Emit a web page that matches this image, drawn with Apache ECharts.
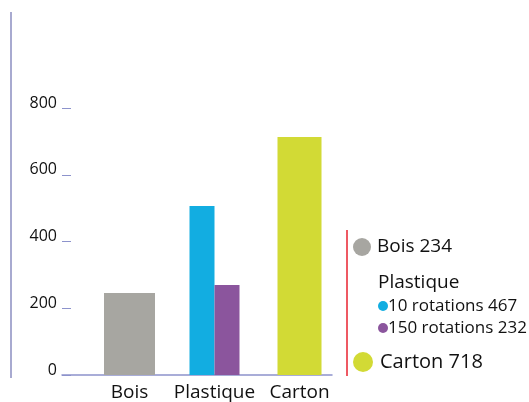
<!DOCTYPE html>
<html>
<head>
<meta charset="utf-8">
<title>Bois, Plastique, Carton</title>
<script src="https://cdn.jsdelivr.net/npm/echarts@6/dist/echarts.min.js"></script>
<style>
    html, body { margin: 0; padding: 0; background: #fff; }
    #chart { width: 529px; height: 402px; }
</style>
</head>
<body>
<div id="chart"></div>
<script>
// data
const categories = ['Bois', 'Plastique', 'Carton'];
const yTicks = [0, 200, 400, 600, 800];
const boisValues = [246, '-', '-'];
const rotations10Values = ['-', 506, '-'];
const rotations150Values = ['-', 270, '-'];
const cartonValues = ['-', '-', 713];

// the key prints its own figures
const keyNames = ['Bois', '10 rotations', '150 rotations', 'Carton'];
const keyFigures = [234, 467, 232, 718];
const keyGroupTitle = 'Plastique';

const FONT = 'Open Sans';
const AXIS_BLUE = '#8d93cc';
const colors = {
    bois: '#a7a6a1',
    r10: '#12ade1',
    r150: '#8b559d',
    carton: '#d2da35'
};

function keyText(i) {
    return keyNames[i] + ' ' + keyFigures[i];
}

function dot(cx, cy, r, fill) {
    return { type: 'circle', shape: { cx: cx, cy: cy, r: r }, style: { fill: fill } };
}

function label(x, y, text, size) {
    return {
        type: 'text', x: x, y: y,
        style: { text: text, fontSize: size, fontFamily: FONT, fill: '#111', verticalAlign: 'middle' }
    };
}

const chart = echarts.init(document.getElementById('chart'));

chart.setOption({
    animation: false,
    backgroundColor: '#fff',
    grid: [
        { left: 87, width: 255, top: 108, bottom: 27 },
        { left: 62, width: 270, top: 108, bottom: 27 }
    ],
    xAxis: [
        {
            type: 'category', gridIndex: 0, data: categories,
            axisLine: { show: false }, axisTick: { show: false },
            axisLabel: { interval: 0, fontSize: 19, fontFamily: FONT, color: '#111', margin: 8 }
        },
        { type: 'category', gridIndex: 0, data: categories, show: false },
        { type: 'category', gridIndex: 0, data: categories, show: false },
        {
            type: 'value', gridIndex: 1, min: 0, max: 1,
            axisLine: { show: true, lineStyle: { color: AXIS_BLUE, width: 1.5 } },
            axisTick: { show: false }, axisLabel: { show: false }, splitLine: { show: false }
        }
    ],
    yAxis: [
        { type: 'value', gridIndex: 0, min: yTicks[0], max: yTicks[yTicks.length - 1], show: false },
        {
            type: 'value', gridIndex: 1,
            min: yTicks[0], max: yTicks[yTicks.length - 1], interval: yTicks[1] - yTicks[0],
            axisLine: { show: false },
            axisTick: { show: true, inside: true, length: 9, lineStyle: { color: AXIS_BLUE } },
            axisLabel: {
                fontSize: 16, fontFamily: FONT, color: '#111', margin: 5,
                verticalAlign: 'bottom', lineHeight: 10
            },
            splitLine: { show: false }
        }
    ],
    series: [
        { name: 'Bois', type: 'bar', xAxisIndex: 0, yAxisIndex: 0, barWidth: 51,
          data: boisValues, itemStyle: { color: colors.bois } },
        { name: 'Carton', type: 'bar', xAxisIndex: 1, yAxisIndex: 0, barWidth: 44,
          data: cartonValues, itemStyle: { color: colors.carton } },
        { name: '10 rotations', type: 'bar', xAxisIndex: 2, yAxisIndex: 0, barWidth: 25, barGap: '0%',
          data: rotations10Values, itemStyle: { color: colors.r10 } },
        { name: '150 rotations', type: 'bar', xAxisIndex: 2, yAxisIndex: 0, barWidth: 25, barGap: '0%',
          data: rotations150Values, itemStyle: { color: colors.r150 } }
    ],
    graphic: [
        { type: 'line', shape: { x1: 11, y1: 12, x2: 11, y2: 378 }, style: { stroke: '#a8aad0', lineWidth: 2 } },
        { type: 'line', shape: { x1: 347, y1: 230, x2: 347, y2: 376 }, style: { stroke: '#e8222f', lineWidth: 1.5 } },
        dot(362, 247, 9, colors.bois),
        label(377, 247, keyText(0), 19),
        label(378, 283, keyGroupTitle, 19),
        dot(383, 306, 5, colors.r10),
        label(388, 306, keyText(1), 17),
        dot(383, 328, 5, colors.r150),
        label(388, 328, keyText(2), 17),
        dot(363, 362, 10, colors.carton),
        label(380, 362, keyText(3), 20)
    ]
});
</script>
</body>
</html>
